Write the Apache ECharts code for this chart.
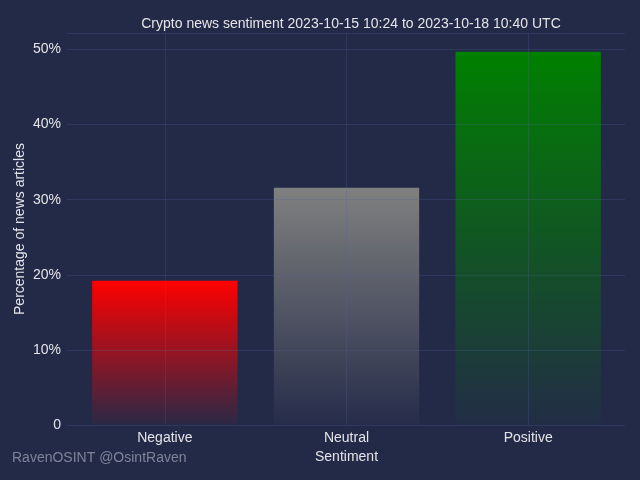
<!DOCTYPE html>
<html>
<head>
<meta charset="utf-8">
<script src="https://cdn.jsdelivr.net/npm/echarts@6/dist/echarts.min.js"></script>
<style>
  html, body { margin: 0; padding: 0; background: #232a48; }
  #chart { width: 640px; height: 480px; }
</style>
</head>
<body>
<div id="chart"></div>
<script>
const categories = ['Negative', 'Neutral', 'Positive']
const shares = [19.2, 31.6, 49.7]
const barColors = [[255, 0, 0], [128, 128, 128], [0, 128, 0]]
const yTicks = [0, 10, 20, 30, 40, 50]

const yMax = Math.max(...shares) * 1.05
const font = 'Liberation Sans, Arial, sans-serif'
const gridColor = 'rgba(80, 100, 150, 0.25)'

function fade(rgb) {
  const c = rgb.join(',')
  return new echarts.graphic.LinearGradient(0, 0, 0, 1, [
    { offset: 0, color: 'rgba(' + c + ',1)' },
    { offset: 1, color: 'rgba(' + c + ',0.03)' },
  ])
}

const chart = echarts.init(document.getElementById('chart'), null, { renderer: 'canvas' })

chart.setOption({
  backgroundColor: '#232a48',
  animation: false,
  textStyle: { fontFamily: font },
  title: {
    text: 'Crypto news sentiment 2023-10-15 10:24 to 2023-10-18 10:40 UTC',
    left: 346,
    textAlign: 'center',
    top: 12,
    textStyle: { color: '#e4e4e8', fontSize: 14, fontWeight: 'normal', fontFamily: font },
  },
  grid: [
    { left: 67, right: 15, top: 33, bottom: 55 },
    { left: 74, right: 21, top: 33, bottom: 55 },
  ],
  xAxis: [
    { gridIndex: 0, type: 'value', min: 0, max: 1, show: false },
    {
      gridIndex: 1,
      type: 'category',
      data: categories,
      name: 'Sentiment',
      nameLocation: 'middle',
      nameGap: 25,
      nameMoveOverlap: false,
      nameTextStyle: { color: '#e4e4e8', fontSize: 14 },
      axisLine: { show: false },
      axisTick: { show: false },
      axisLabel: { color: '#e4e4e8', fontSize: 14, margin: 6 },
      splitLine: { show: false },
    },
  ],
  yAxis: [
    {
      gridIndex: 0,
      type: 'value',
      min: 0,
      max: yMax,
      interval: 10,
      z: 5,
      name: 'Percentage of news articles',
      nameLocation: 'middle',
      nameGap: 40,
      nameMoveOverlap: false,
      nameTextStyle: { color: '#e4e4e8', fontSize: 14 },
      axisLine: { show: false },
      axisTick: { show: false },
      axisLabel: {
        color: '#e4e4e8',
        fontSize: 14,
        margin: 6,
        showMaxLabel: false,
        formatter: (v) => (yTicks.includes(v) ? (v === 0 ? '0' : v + '%') : ''),
      },
      splitLine: { show: true, lineStyle: { color: gridColor, width: 1 } },
    },
    { gridIndex: 1, type: 'value', min: 0, max: yMax, show: false },
  ],
  series: [
    {
      type: 'bar',
      xAxisIndex: 1,
      yAxisIndex: 1,
      barCategoryGap: '20%',
      data: shares.map((v, i) => ({ value: v, itemStyle: { color: fade(barColors[i]) } })),
      markLine: {
        silent: true,
        symbol: 'none',
        label: { show: false },
        lineStyle: { color: gridColor, type: 'solid', width: 1 },
        data: categories.map((c) => ({ xAxis: c })),
      },
    },
  ],
  graphic: [
    {
      type: 'text',
      left: 12,
      top: 451,
      style: { text: 'RavenOSINT @OsintRaven', fill: '#7f8499', fontSize: 14, fontFamily: font },
    },
  ],
})
</script>
</body>
</html>
